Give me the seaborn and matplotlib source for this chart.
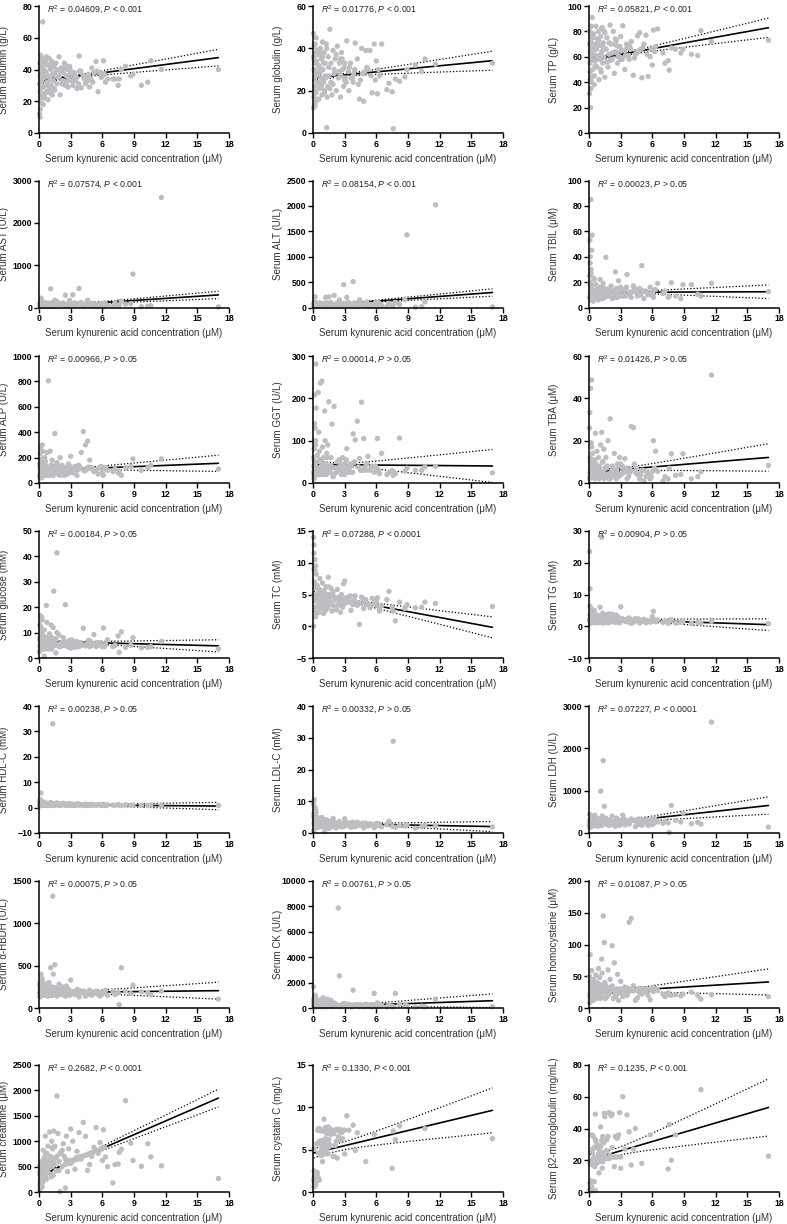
import numpy as np
import matplotlib
matplotlib.use("Agg")
import matplotlib.pyplot as plt
import seaborn as sns

nan = np.nan

# serum kynurenic acid (uM), shared by every panel
kyna = [17.0, 11.6, 10.6, 10.3, 9.7, 8.9, 8.7, 8.2, 7.8, 7.6,
        7.5, 7.2, 7.0, 6.5, 6.3, 6.1, 6.0, 5.8, 5.6, 5.4,
        5.2, 5.0, 4.8, 4.6, 4.4, 4.2, 4.0, 3.8, 3.6, 3.4,
        3.2, 3.0, 2.9, 2.8, 2.7, 2.6, 2.5, 2.4, 2.3, 2.2,
        2.1, 2.0, 1.9, 1.8, 1.7, 1.6, 1.5, 1.45, 1.4, 1.35,
        1.3, 1.25, 1.2, 1.15, 1.1, 1.05, 1.0, 0.95, 0.9, 0.85,
        0.8, 0.75, 0.7, 0.65, 0.6, 0.55, 0.5, 0.45, 0.4, 0.35,
        0.3, 0.28, 0.25, 0.22, 0.2, 0.18, 0.15, 0.12, 0.1, 0.08,
        0.05, 0.06, 0.1, 0.15, 0.2, 0.25, 0.3, 0.4, 0.5, 0.6,
        0.7, 0.9, 1.1, 1.3, 1.5, 1.7, 1.9, 2.2, 2.5, 3.0,
        0.1, 0.2, 0.35, 0.6, 0.8, 1.0, 1.2, 1.6, 2.0, 2.6,
        2.65, 2.95, 3.15, 3.35, 3.55, 3.75, 3.95, 4.3, 4.7, 5.1,
        5.5, 5.9, 6.2, 2.45, 2.75, 3.05, 3.45, 3.85, 4.5, 4.9]

albumin = [40, 40, 45.5, 32, 30, 37, 36, 42, 40, 34,
           30, 34, 34, 34, 32, 45.5, 36, 38, 26, 45,
           38, 41, 29, 33, 31, 36, 28.5, 48.5, 28, 35,
           30, 38, 42, 33, 40, 36, 30, 44, 38, 33,
           41, 24, 48, 35, 31, 44, 38, 28, 42, 33,
           37, 24, 45, 30, 40, 34, 28, 47, 36, 21,
           43, 32, 26, 38, 45, 22, 35, 29, 41, 70,
           24, 46, 33, 19, 40, 28, 49, 15, 36, 44,
           12, 31, 10, 42, 22, 47, 38, 18, 30, 25,
           48, 30, 25, 44, 27, 40, 36, 31, 43, 34,
           26, 33, 43, 39, 30, 42, 27, 36, 39, 32,
           36, 40, 33, 38, 35, 31, 39, 34, 37, 32,
           39, 35, 37, 41, 29, 37, 33, 39, 36, 34]
globulin = [33, 32.5, 35, 29, 32, 30, 26.5, 24.5, 25.5, 2,
            19.5, 23.5, 20.5, 42, 27, 18.5, 34, 42, 19, 39,
            30, 39, 15, 40, 16, 35, 42.5, 24, 26, 20,
            43.5, 33, 22, 30, 38, 17, 33, 26, 41, 20,
            35, 28, 39, 18, 24, 49, 31, 36, 22, 17,
            2.5, 42, 27, 33, 20, 38, 24, 30, 43, 18,
            35, 26, 40, 21, 31, 16, 37, 28, 23, 34,
            45, 19, 29, 38, 13, 33, 25, 41, 17, 36,
            47, 12, 30, 22, 42, 27, 15, 39, 32, 24,
            29, 36, 19, 40, 27, 33, 23, 37, 29, 25,
            35, 20, 28, 38, 22, 33, 26, 21, 30, 35,
            27, 31, 24, 29, 33, 26, 30, 23, 28, 31,
            27, 25, 30, 29, 35, 26, 31, 28, 25, 29]
tp = [73, 72, 80.5, 61, 62, 66, 63, 66, 67, 49.5,
      57, 55, 63, 82, 68, 81, 53.5, 60, 44.5, 77,
      70, 43.5, 79, 76.5, 62, 45.5, 72, 58, 67, 50,
      84.5, 76, 60, 68, 55, 73, 64, 47, 80, 58,
      70, 85, 62, 52, 75, 66, 44, 80, 60, 71,
      55, 83, 64, 48, 76, 58, 69, 42, 80, 61,
      74, 52, 66, 84, 57, 70, 45, 78, 63, 50,
      91, 68, 40, 76, 59, 35, 72, 64, 48, 80,
      31, 70, 55, 20, 84, 44, 62, 75, 38, 67,
      60, 73, 50, 68, 79, 56, 71, 63, 74, 58,
      42, 65, 78, 53, 70, 61, 82, 66, 57, 69,
      63, 68, 58, 65, 70, 61, 66, 59, 64, 67,
      62, 66, 64, 70, 60, 65, 61, 68, 63, 66]
ast = [15, 2600, 40, 30, 20, 790, 90, 80, 150, 60,
       40, 110, 30, 50, 90, 20, 70, 40, 60, 30,
       80, 40, 100, 170, 50, 30, 60, 450, 90, 40,
       300, 60, 170, 30, 80, 50, 290, 40, 110, 70,
       30, 90, 50, 60, 140, 40, 170, 30, 80, 60,
       120, 40, 90, 30, 440, 70, 50, 100, 30, 60,
       40, 80, 30, 110, 50, 20, 90, 60, 40, 70,
       50, 150, 30, 80, 220, 40, 60, 110, 30, 70,
       90, 20, 60, 40, 130, 30, 80, 50, 100, 30,
       60, 40, 100, 30, 70, 50, 40, 90, 30, 60,
       30, 70, 50, 90, 40, 60, 30, 80, 50, 40,
       60, 90, 40, 110, 70, 50, 120, 80, 60, 100,
       70, 90, 110, 50, 80, 60, 100, 70, 90, 60]
alt = [10, 2020, 110, 15, 5, 1430, 160, 60, 100, 40,
       30, 80, 20, 40, 60, 10, 90, 30, 50, 20,
       60, 30, 70, 50, 150, 20, 40, 510, 60, 30,
       200, 40, 450, 30, 60, 40, 150, 30, 80, 60,
       40, 240, 30, 50, 100, 40, 210, 20, 70, 50,
       90, 30, 200, 40, 60, 50, 30, 80, 40, 50,
       30, 60, 40, 90, 30, 20, 70, 40, 30, 60,
       40, 90, 20, 60, 210, 30, 50, 100, 20, 60,
       70, 20, 40, 30, 110, 20, 60, 40, 80, 30,
       50, 30, 80, 20, 60, 40, 30, 70, 20, 50,
       20, 50, 40, 70, 30, 50, 20, 60, 40, 30,
       50, 80, 40, 100, 60, 30, 90, 70, 50, 110,
       60, 90, 100, 40, 70, 50, 80, 60, 90, 70]
tbil = [12.5, 19, 9, 10.5, 18, 18, 7, 9, 19.5, 9,
        8, 13, 11, 19, 14, 8, 12, 16, 10, 13,
        7, 33, 15, 9, 12, 17, 8, 11, 26, 14,
        9, 16, 12, 21, 8, 15, 28, 11, 13, 7,
        17, 10, 14, 9, 12, 39.5, 8, 15, 11, 19,
        13, 7, 10, 16, 12, 22, 9, 14, 6, 11,
        15, 9, 12, 18, 8, 13, 11, 23, 7, 14,
        57, 10, 45, 16, 30, 85, 12, 40, 20, 53,
        8, 25, 35, 6, 14, 18, 10, 5, 22, 12,
        9, 16, 11, 7, 13, 10, 15, 12, 8, 14,
        18, 27, 9, 11, 13, 8, 15, 10, 12, 9,
        11, 14, 9, 13, 16, 10, 12, 15, 11, 13,
        12, 10, 14, 13, 11, 15, 9, 12, 14, 10]
alp = [110, 190, 140, 120, 100, 190, 130, 120, 60, 90,
       80, 110, 90, 100, 120, 60, 80, 120, 70, 100,
       90, 120, 180, 330, 300, 405, 240, 110, 60, 130,
       80, 210, 100, 150, 70, 120, 90, 60, 110, 140,
       90, 200, 120, 70, 150, 100, 390, 80, 130, 60,
       110, 180, 70, 140, 90, 250, 60, 120, 805, 100,
       80, 240, 130, 60, 100, 200, 150, 70, 110, 250,
       300, 90, 140, 60, 180, 110, 280, 70, 120, 40,
       150, 60, 230, 90, 120, 40, 190, 100, 70, 140,
       110, 60, 90, 130, 80, 160, 120, 70, 100, 90,
       60, 130, 90, 170, 110, 80, 120, 140, 60, 100,
       110, 130, 90, 120, 100, 140, 115, 95, 125, 105,
       110, 130, 120, 100, 125, 95, 115, 130, 105, 120]
ggt = [24, 39, 38, 30, 30, 35, 28, 106, 22, 18,
       30, 25, 20, 70, 22, 105, 35, 25, 40, 30,
       63, 30, 105, 191, 58, 146, 102, 116, 40, 25,
       81, 45, 30, 60, 20, 40, 55, 30, 50, 25,
       35, 181, 37, 139, 60, 25, 192, 40, 90, 30,
       70, 20, 45, 100, 170, 30, 60, 20, 85, 241,
       40, 25, 236, 55, 30, 120, 214, 20, 65, 35,
       177, 281, 100, 30, 130, 50, 208, 20, 80, 40,
       25, 60, 15, 140, 35, 90, 20, 50, 30, 75,
       20, 45, 30, 60, 25, 40, 15, 35, 50, 20,
       10, 45, 30, 20, 55, 25, 40, 30, 20, 35,
       40, 30, 55, 35, 45, 25, 50, 38, 30, 45,
       35, 40, 30, 50, 28, 42, 35, 48, 30, 38]
tba = [8.3, 51, 5.3, 3, 2, 13.8, 4, 3.6, 13.8, 7,
       2, 3, 1, 5.5, 15, 20, 5.5, 2, 4, 3,
       1, 6, 2, 4, 5, 26.2, 26.7, 5, 2, 11.5,
       7, 4, 12, 3, 9, 2, 6, 14, 3, 8,
       5, 30.3, 4, 20, 3, 12, 7, 2, 16, 6,
       10, 4, 23.9, 3, 18, 5, 8, 2, 12, 6,
       4, 15, 3, 9, 23.5, 2, 11, 5, 7, 14,
       6, 3, 48.7, 8, 19, 4, 44.7, 10, 5, 33.3,
       26, 2, 12, 7, 5, 17, 3, 9, 6, 4,
       7, 5, 3, 10, 4, 8, 2, 6, 4, 9,
       3, 11, 6, 4, 8, 5, 3, 7, 2, 5,
       6, 4, 8, 5, 7, 3, 6, 9, 4, 6,
       5, 3, 7, 6, 8, 4, 6, 5, 7, 4]
glucose = [3.6, 6.5, 4.5, 4.2, 4, 8, 5, 4.2, 10.3, 2.2,
           8.7, 5, 4.5, 7.2, 5.5, 11.8, 4.5, 6, 5, 4.5,
           9.2, 5, 4.5, 5.5, 4.8, 11.7, 5, 4.5, 6, 4.2,
           5.5, 4, 7, 5, 4.5, 6, 21, 5, 8, 4.8,
           6, 4.5, 9, 5.5, 41.4, 2, 7, 5, 26.3, 12,
           4.5, 8, 5.5, 13, 6, 4, 9.5, 5, 7, 3.5,
           6, 14, 20.7, 5, 8, 4, 11, 3.5, 7, 5.5,
           9, 4, 16, 6, 12, 3.5, 16.6, 7, 5, 13,
           2.5, 8, 4.5, 10, 6, 3.5, 15, 5.5, 0.7, 7,
           5, 8.5, 4, 6.5, 5, 10, 4.5, 6, 5.5, 4,
           7, 5, 9, 4, 6.5, 5.5, 3.5, 7.5, 5, 6,
           6, 5, 7, 5.5, 6.5, 4.5, 6, 5, 7, 5.5,
           6, 5, 4.5, 6.5, 5.5, 7, 5, 6, 5.5, 6.5]
tc = [3.1, 3.6, 3.8, 3, 2.9, 3.4, 2.8, 3.8, 0.85, 2.4,
      3, 5.5, 4.2, 3.2, 2.4, 4.5, 3.9, 3.5, 4.4, 2.9,
      3.5, 4.2, 2.8, 4.6, 0.3, 3.3, 4.8, 4, 2.5, 4.6,
      3.8, 7.1, 6.7, 3, 5, 2.2, 4.2, 3.5, 5.8, 2.8,
      4.5, 3.2, 5.4, 2.4, 6, 3.8, 4.4, 7.7, 2.9, 5,
      3.6, 6.2, 2.5, 4.8, 3.4, 5.6, 2, 4.2, 6.8, 3.2,
      5.2, 2.8, 4.6, 7.5, 3.6, 2.2, 5.5, 4, 6.4, 3,
      8.2, 4.4, 9.5, 3, 6, 10.5, 2.5, 7, 11.5, 5,
      14, 0, 12.8, 4, 8.8, 1.5, 6.5, 3.2, 5.2, 4.6,
      3.8, 5.4, 3, 4.4, 6.2, 3.4, 4.8, 2.6, 4.2, 3.6,
      9, 6.6, 2, 5.8, 3.6, 4.7, 3.2, 5.0, 4.1, 3.3,
      4.2, 3.6, 4.5, 3.9, 4.8, 3.4, 4.0, 3.7, 4.4, 3.5,
      3.3, 3.9, 3.1, 4.6, 4.0, 4.3, 3.8, 4.1, 3.6, 3.9]
tg = [0.8, 1.6, 1.0, 1.2, 0.9, 1.6, 1.2, 1.0, 2.1, 1.4,
      0.9, 1.6, 1.2, 2.0, 1.4, 4.7, 3.0, 1.3, 1.8, 1.1,
      2.2, 1.5, 1.0, 1.8, 2.4, 1.2, 0.9, 2.6, 1.4, 1.7,
      2.0, 6.1, 1.1, 2.8, 1.5, 3.5, 1.2, 2.3, 1.7, 3.8,
      1.4, 2.5, 3.9, 1.1, 2.0, 1.6, 3.2, 1.3, 2.7, 1.0,
      4.1, 1.5, 28, 2.2, 1.2, 6.0, 1.8, 2.9, 1.3, 3.4,
      1.6, 2.4, 1.1, 3.6, 2.0, 1.4, 5.0, 1.7, 2.6, 1.2,
      3.0, 1.5, 4.8, 2.1, 1.0, 5.8, 2.5, 1.3, 3.7, 1.8,
      2.2, 23.5, 11.8, 1.1, 3.3, 1.6, 4.2, 2.0, 1.3, 2.8,
      1.9, 3.1, 1.4, 2.4, 1.7, 3.6, 1.2, 2.3, 1.5, 2.0,
      6.3, 1.8, 2.7, 1.2, 2.5, 1.5, 3.2, 1.9, 2.8, 1.4,
      2.0, 1.6, 2.4, 1.8, 2.2, 1.5, 2.1, 1.7, 2.3, 1.6,
      1.8, 1.5, 2.0, 2.2, 1.9, 2.4, 1.6, 2.1, 1.8, 1.9]
hdl = [0.8, 0.9, 1.0, 0.8, 0.9, 1.0, 0.9, 1.1, 0.8, 1.0,
       1.2, 0.9, 1.0, 1.1, 0.8, 1.3, 0.9, 1.0, 1.2, 0.9,
       1.1, 1.3, 0.9, 1.0, 1.4, 0.8, 1.2, 1.0, 1.5, 0.9,
       1.3, 1.0, 1.6, 1.1, 0.9, 1.4, 1.2, 1.0, 1.7, 1.1,
       1.3, 0.9, 1.5, 1.2, 1.8, 1.0, 1.4, 1.1, 1.6, 0.8,
       33, 1.2, 1.5, 0.9, 2.0, 1.1, 1.3, 1.6, 1.0, 1.4,
       1.2, 1.7, 0.9, 1.5, 1.1, 2.1, 1.3, 1.0, 1.8, 1.2,
       1.6, 2.4, 1.0, 1.4, 1.9, 5.8, 1.2, 2.6, 0.8, 1.5,
       2.2, 0.6, 3.2, 1.3, 1.7, 1.1, 2.0, 1.4, 0.9, 1.6,
       1.1, 1.5, 1.3, 0.9, 1.2, 1.6, 1.0, 1.4, 1.1, 1.3,
       2.8, 1.4, 1.0, 1.7, 1.2, 1.5, 0.9, 1.3, 1.1, 1.2,
       1.1, 1.3, 0.9, 1.2, 1.0, 1.4, 1.1, 0.9, 1.2, 1.0,
       1.1, 0.9, 1.0, 1.3, 1.2, 1.0, 1.1, 1.3, 0.9, 1.1]
ldl = [1.9, 2.3, 2.5, 2.0, 1.5, 2.6, 2.2, 2.4, 1.8, 28.9,
       2.1, 3.7, 2.6, 1.9, 2.8, 2.3, 3.0, 1.7, 2.5, 2.9,
       2.2, 3.1, 1.6, 2.7, 2.4, 3.4, 2.0, 2.6, 1.8, 3.2,
       2.5, 4.5, 2.1, 3.0, 1.9, 2.7, 3.6, 2.2, 2.9, 1.6,
       3.3, 2.4, 4.6, 2.0, 2.8, 3.5, 1.5, 2.6, 3.9, 2.2,
       2.9, 4.2, 1.8, 3.1, 0.4, 2.5, 3.7, 2.0, 2.7, 4.9,
       2.3, 3.4, 1.9, 2.8, 4.0, 2.1, 3.2, 2.6, 5.0, 1.7,
       3.8, 6.5, 2.4, 4.4, 8.0, 2.9, 5.5, 10.5, 3.1, 6.0,
       9.2, 0.8, 4.8, 2.2, 3.5, 7.0, 2.7, 3.3, 1.9, 2.8,
       2.4, 3.0, 2.1, 3.6, 2.6, 1.9, 3.2, 2.3, 2.8, 2.5,
       5.2, 3.9, 2.9, 3.4, 2.2, 3.0, 2.6, 2.4, 2.0, 3.1,
       2.8, 3.2, 2.5, 3.0, 2.7, 3.4, 2.6, 2.9, 3.1, 2.7,
       2.8, 2.6, 2.9, 3.1, 2.5, 3.0, 2.8, 3.3, 2.6, 2.9]
ldh = [140, 2620, 210, 250, 220, 470, 260, 300, 650, 15,
       240, 280, 230, 260, 300, 220, 200, 270, 180, 250,
       230, 180, 280, 200, 150, 300, 330, 210, 260, 190,
       420, 250, 180, 300, 220, 350, 160, 270, 200, 400,
       230, 310, 180, 260, 200, 350, 240, 630, 290, 1710,
       210, 400, 180, 300, 990, 250, 200, 330, 230, 160,
       280, 200, 350, 240, 190, 420, 260, 210, 300, 170,
       400, 230, 160, 310, 250, 190, 350, 220, 280, 130,
       180, 440, 240, 200, 300, 150, 260, 210, 180, 240,
       220, 280, 190, 260, 230, 300, 210, 250, 200, 270,
       310, 190, 250, 220, 280, 200, 240, 270, 210, 230,
       270, 300, 250, 320, 280, 260, 310, 290, 330, 300,
       320, 340, 350, 260, 290, 280, 300, 270, 310, 330]
hbdh = [105, 200, 155, 180, 190, 270, 170, 200, 475, 40,
        180, 160, 200, 150, 210, 170, 190, 140, 160, 200,
        170, 150, 210, 160, 140, 200, 180, 130, 220, 160,
        190, 330, 150, 220, 170, 260, 140, 200, 180, 250,
        160, 220, 280, 190, 140, 230, 510, 170, 210, 400,
        1320, 180, 250, 150, 475, 210, 170, 300, 190, 140,
        240, 190, 160, 280, 200, 150, 230, 180, 300, 170,
        200, 350, 150, 250, 190, 400, 170, 220, 140, 290,
        180, 260, 130, 210, 160, 330, 190, 240, 150, 200,
        170, 220, 190, 150, 240, 180, 200, 160, 230, 190,
        280, 170, 210, 190, 250, 160, 220, 180, 200, 170,
        185, 200, 170, 195, 180, 210, 190, 175, 200, 185,
        190, 180, 195, 200, 175, 190, 185, 205, 180, 195]
ck = [100, 700, 100, 150, 80, 180, 200, 300, 1150, 100,
      120, 250, 90, 200, 150, 400, 120, 1150, 80, 200,
      150, 300, 100, 200, 120, 250, 180, 1400, 90, 300,
      200, 120, 350, 150, 250, 100, 2530, 7870, 180, 300,
      150, 400, 100, 250, 600, 120, 200, 350, 150, 700,
      200, 300, 120, 500, 150, 250, 100, 800, 180, 300,
      150, 400, 100, 250, 600, 200, 120, 350, 180, 500,
      300, 120, 800, 200, 1000, 150, 450, 250, 100, 700,
      1670, 200, 400, 150, 600, 100, 300, 200, 150, 250,
      250, 180, 300, 120, 200, 400, 150, 250, 180, 350,
      500, 200, 150, 300, 250, 120, 200, 180, 300, 150,
      200, 300, 150, 250, 220, 180, 260, 240, 200, 280,
      250, 260, 270, 180, 220, 200, 240, 210, 260, 230]
hcy = [18, 21, 14, 20, 25, 22, 19, 21, 20, 21,
       24, 18, 22, 28, 30, 26, 32, 13, 20, 24,
       30, 22, 24, 16, 12, 35, 141, 135, 20, 33,
       18, 42, 25, 12, 53, 30, 20, 71, 15, 98,
       28, 45, 22, 60, 18, 35, 40, 103, 25, 145,
       30, 55, 77, 20, 36, 15, 48, 25, 62, 30,
       22, 40, 15, 52, 28, 18, 35, 45, 12, 25,
       38, 20, 59, 15, 30, 45, 10, 25, 84, 18,
       50, 8, 22, 35, 14, 28, 40, 20, 32, 16,
       25, 38, 20, 30, 15, 28, 22, 35, 18, 26,
       42, 30, 24, 18, 36, 22, 28, 16, 32, 20,
       26, 30, 22, 28, 32, 25, 29, 27, 31, 28,
       30, 28, 31, 27, 24, 29, 26, 30, 28, 31]
creatinine = [265, 515, 690, 950, 505, 620, 960, 1800, 840, 780,
              550, 540, 180, 500, 690, 1225, 620, 975, 760, 1270,
              880, 700, 540, 425, 1095, 1370, 650, 1170, 800, 450,
              1000, 1240, 620, 850, 400, 1100, 80, 700, 950, 500,
              780, 10, 600, 1150, 1890, 420, 900, 650, 1200, 330,
              850, 560, 1000, 300, 700, 480, 1180, 620, 380, 900,
              520, 760, 250, 640, 1100, 350, 580, 450, 820, 200,
              600, 300, 480, 150, 550, 80, 400, 250, 520, 120,
              30, 350, 180, 450, 260, 600, 100, 520, 680, 300,
              750, 480, 620, 880, 550, 700, 420, 820, 650, 560,
              400, 200, 550, 720, 380, 620, 500, 680, 760, 600,
              560, 620, 600, 640, 680, 650, 700, 720, 750, 780,
              820, 850, 880, 540, 580, 600, 630, 670, 730, 770]
cystatin = [6.3, nan, 7.5, nan, nan, nan, nan, 7.8, 6.2, 7.2,
            2.8, nan, nan, nan, nan, nan, nan, 6.8, nan, nan,
            nan, 3.6, nan, nan, nan, 7.0, 4.9, 7.9, nan, 7.3,
            9.0, 4.5, 7.3, 6.3, 7.0, 7.3, 7.2, 6.5, 4.0, 7.4,
            5.5, 4.2, 7.0, 7.3, 6.8, 7.5, 6.2, 7.7, 4.5, 6.0,
            7.4, 5.0, 5.8, 7.6, 4.8, 8.6, 5.5, 4.4, 3.6, 5.2,
            6.0, 4.3, 7.2, 5.8, 6.0, 7.5, 4.6, 7.3, 2.3, 1.7,
            1.2, 2.0, 0.9, 1.5, 0.7, 2.3, 1.0, 1.8, 5.1, 0.6,
            1.4, nan, 2.5, nan, 1.1, nan, 1.6, 2.2, 1.7, 1.4,
            5.6, 6.1, 4.6, 6.9, 5.3, 7.1, 4.2, 6.0, 7.4, 7.3,
            nan, nan, 5.7, 7.5, 4.9, 7.2, 6.3, 5.6, 6.9, 6.2,
            nan, nan, nan, nan, nan, nan, nan, nan, nan, nan,
            nan, nan, nan, nan, nan, nan, nan, nan, nan, nan]
b2mg = [22.5, nan, 64.5, nan, nan, nan, nan, 36, 20, 42.5,
        14.5, nan, nan, nan, nan, nan, nan, 36, nan, nan,
        nan, 18, nan, nan, 40, 27, 17, 38, 48.5, 27,
        60, 15, 50, 36, 34, 22, 35, 16, 22, 49,
        48, 22, 50, 35, 33, 26, 47.5, 49.5, 31, 21,
        35, 15, 32.5, 25, 41, 29, 22, 12, 27, 20,
        21, 30, 18, 32, 49, 16, 28, 22, 35, 17,
        25, 36, 3, 6.5, 0.5, 4, 19, 2, 5.5, 1.5,
        nan, nan, 18, nan, 7, nan, 20, nan, 6.5, 1.0,
        21, 24, 28.7, 19, 23, 26, 21, 28, 22, 22,
        nan, nan, 27, 33, 22, 19, 24, 21, 23, 34,
        nan, nan, nan, nan, nan, nan, nan, nan, nan, nan,
        nan, nan, nan, nan, nan, nan, nan, nan, nan, nan]

series = [albumin, globulin, tp, ast, alt, tbil, alp, ggt, tba, glucose, tc, tg,
          hdl, ldl, ldh, hbdh, ck, hcy, creatinine, cystatin, b2mg]

# reported linear fits (intercept, slope) and 95% CI half-widths (narrowest / at 17 uM)
fit_intercept = [32.7, 26.0, 57.4, 17, 32, 11.9, 99, 43.6, 5.1, 6.6, 5.1, 2.42,
                 1.2, 3.05, 184, 181, 98, 24, 319, 4.58, 20.1]
fit_slope = [0.87, 0.48, 1.5, 16.5, 15.5, 0.03, 3.3, -0.2, 0.41, -0.107, -0.31, -0.113,
             -0.035, -0.06, 27.4, 1.4, 28, 1.0, 90, 0.298, 1.95]
ci_min = [0.8, 0.7, 1.2, 12, 10, 0.6, 7, 4, 0.8, 0.3, 0.2, 0.25,
          0.15, 0.2, 25, 12, 60, 2.5, 22, 0.45, 2.3]
ci_end = [5.2, 4.5, 7.6, 87, 72, 5.4, 64, 39, 6.5, 2.4, 1.65, 1.85,
          1.45, 1.6, 205, 100, 540, 20.5, 175, 2.65, 18]

ylabels = ["Serum albumin (g/L)", "Serum globulin (g/L)", "Serum TP (g/L)",
           "Serum AST (U/L)", "Serum ALT (U/L)", "Serum TBIL (μM)",
           "Serum ALP (U/L)", "Serum GGT (U/L)", "Serum TBA (μM)",
           "Serum glucose (mM)", "Serum TC (mM)", "Serum TG (mM)",
           "Serum HDL-C (mM)", "Serum LDL-C (mM)", "Serum LDH (U/L)",
           "Serum α-HBDH (U/L)", "Serum CK (U/L)", "Serum homocysteine (μM)",
           "Serum creatinine (μM)", "Serum cystatin C (mg/L)", "Serum β2-microglobulin (mg/mL)"]
r2_text = ["0.04609", "0.01776", "0.05821", "0.07574", "0.08154", "0.00023",
           "0.00966", "0.00014", "0.01426", "0.00184", "0.07288", "0.00904",
           "0.00238", "0.00332", "0.07227", "0.00075", "0.00761", "0.01087",
           "0.2682", "0.1330", "0.1235"]
p_text = ["< 0.001", "< 0.001", "< 0.001", "< 0.001", "< 0.001", "> 0.05",
          "> 0.05", "> 0.05", "> 0.05", "> 0.05", "< 0.0001", "> 0.05",
          "> 0.05", "> 0.05", "< 0.0001", "> 0.05", "> 0.05", "> 0.05",
          "< 0.0001", "< 0.001", "< 0.001"]
y_min = [0, 0, 0, 0, 0, 0, 0, 0, 0, 0, -5, -10, -10, 0, 0, 0, 0, 0, 0, 0, 0]
y_max = [80, 60, 100, 3000, 2500, 100, 1000, 300, 60, 50, 15, 30, 40, 40, 3000,
         1500, 10000, 200, 2500, 15, 80]
y_step = [20, 20, 20, 1000, 500, 20, 200, 100, 20, 10, 5, 10, 10, 10, 1000,
          500, 2000, 50, 500, 5, 20]
x_ticks = [0, 3, 6, 9, 12, 15, 18]

sns.set_theme(style="ticks")
plt.rcParams["font.family"] = ["Liberation Sans", "DejaVu Sans"]
plt.rcParams["mathtext.fontset"] = "custom"
plt.rcParams["mathtext.rm"] = "Liberation Sans"
plt.rcParams["mathtext.it"] = "Liberation Sans:italic"

W, H = 787, 1224
fig = plt.figure(figsize=(W / 100, H / 100), dpi=100)
col_left = [39, 313, 589]
row_top = [6, 180.5, 356, 531, 706, 881, 1065]
aw, ah = 190, 127
dot_color = "#BEBEC2"
x = np.array(kyna, dtype=float)

for i, yv in enumerate(series):
    r, c = divmod(i, 3)
    ax = fig.add_axes([col_left[c] / W, 1 - (row_top[r] + ah) / H, aw / W, ah / H])
    y = np.array(yv, dtype=float)
    ok = ~np.isnan(y)
    xs_, ys_ = x[ok], y[ok]

    # fitted line with its 95% confidence band (hyperbolic around the mean x)
    xg = np.linspace(xs_.min(), xs_.max(), 200)
    xbar = xs_.mean()
    fit = fit_intercept[i] + fit_slope[i] * xg
    k2 = (ci_end[i] ** 2 - ci_min[i] ** 2) / (xs_.max() - xbar) ** 2
    half = np.sqrt(ci_min[i] ** 2 + k2 * (xg - xbar) ** 2)
    sns.lineplot(x=xg, y=fit, ax=ax, color="black", lw=1.2, zorder=1.5)
    ax.plot(xg, fit + half, color="black", lw=0.9, ls=(0, (1, 1.6)), zorder=1.5)
    ax.plot(xg, fit - half, color="black", lw=0.9, ls=(0, (1, 1.6)), zorder=1.5)
    sns.scatterplot(x=xs_, y=ys_, ax=ax, s=15, color=dot_color, edgecolor="none",
                    linewidth=0, zorder=2.2, clip_on=False, legend=False)

    ax.set_xlim(0, 18)
    ax.set_ylim(y_min[i], y_max[i])
    ax.set_xticks(x_ticks)
    ax.set_yticks(np.arange(y_min[i], y_max[i] + y_step[i] / 2, y_step[i]))
    sns.despine(ax=ax)
    for sp in ("left", "bottom"):
        ax.spines[sp].set_linewidth(1.1)
        ax.spines[sp].set_color("black")
        ax.spines[sp].set_zorder(3)
    ax.tick_params(axis="both", length=3.4, width=1.0, color="black", pad=1.5,
                   labelsize=6.3, labelcolor="black")
    for lab in ax.get_xticklabels() + ax.get_yticklabels():
        lab.set_fontweight("bold")
    ax.set_xlabel("Serum kynurenic acid concentration (μM)", fontsize=7,
                  color="#333333", labelpad=3.5)
    ax.set_ylabel(ylabels[i], fontsize=7, color="#333333")
    ax.yaxis.set_label_coords(-0.158, 0.5)
    ax.text(0.04, 0.965, r"$R^2$ = " + r2_text[i] + ", $P$ " + p_text[i],
            transform=ax.transAxes, fontsize=6.3, color="#222222", va="center", ha="left")

fig.savefig("out.png", dpi=100)
